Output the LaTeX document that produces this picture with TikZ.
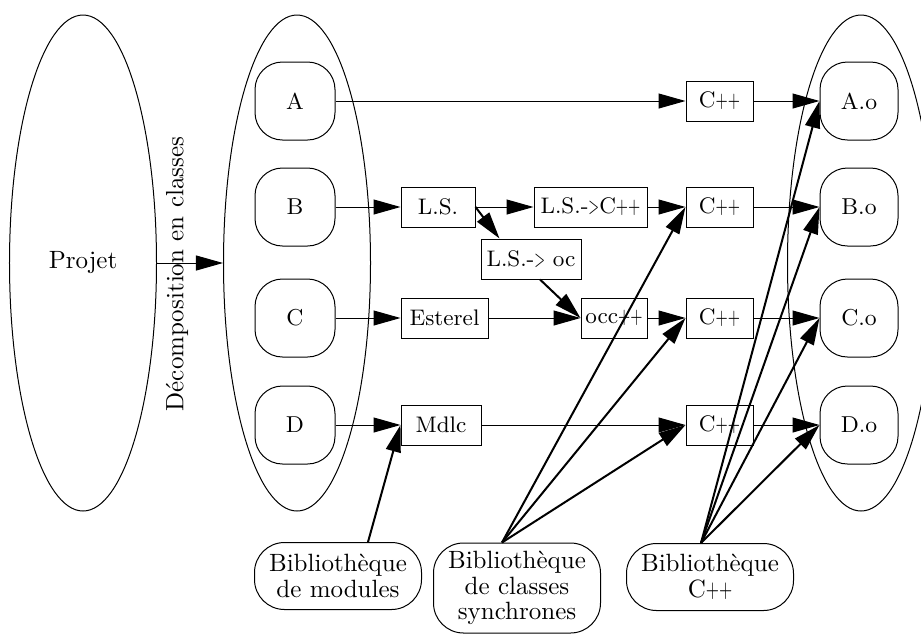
\documentclass[tikz,border=0pt]{standalone}
\usepackage{graphicx}
\usetikzlibrary{arrows.meta,shapes.geometric}
\newcommand{\mypp}{\scalebox{0.68}[1]{+}}
\newcommand{\mygt}{\scalebox{0.6}[1]{>}}
\begin{document}
\begin{tikzpicture}[x=0.4pt,y=-0.4pt,
  tipstyle/.style={-{Triangle[length=10.8pt,width=6pt]}},
  thinarrow/.style={tipstyle, line width=0.4pt},
  thickarrow/.style={tipstyle, line width=0.8pt},
  ell/.style={draw, line width=0.4pt, ellipse, minimum width=58.8pt, minimum height=198.4pt, inner sep=0pt, font=\fontsize{10}{12}\selectfont},
  rbox/.style={draw, line width=0.4pt, rounded corners=11pt, minimum width=32pt, minimum height=31.2pt, inner sep=0pt, font=\fontsize{9.2}{11}\selectfont},
  sqbox/.style={draw, line width=0.4pt, minimum height=16pt, inner sep=0pt, font=\fontsize{9}{11}\selectfont},
  lib/.style={draw, line width=0.4pt, rounded corners=12pt, minimum width=66.8pt, minimum height=26.8pt, align=center, inner sep=0pt, font=\fontsize{10}{10.3}\selectfont},
]
\useasboundingbox (0,0) rectangle (921,635);

% ellipses
\node[ell] (projet) at (83,263) {Projet};
\node[ell] (classes) at (297,263) {};
\node[ell] (objets) at (861,263) {};
\node[rotate=90, inner sep=0pt, font=\fontsize{10}{12}\selectfont] (decomp) at (177,274) {Décomposition en classes};

% class boxes
\node[rbox] (A) at (295,101) {A};
\node[rbox] (B) at (295,207) {B};
\node[rbox] (C) at (295,318) {C};
\node[rbox] (D) at (295,425) {D};

% object boxes
\node[rbox, minimum width=31.2pt] (Ao) at (859,101) {A.o};
\node[rbox, minimum width=31.2pt] (Bo) at (859,207) {B.o};
\node[rbox, minimum width=31.2pt] (Co) at (859,318) {C.o};
\node[rbox, minimum width=31.2pt] (Do) at (859,425) {D.o};

% C++ boxes
\node[sqbox, minimum width=26.8pt] (cppA) at (719.5,101) {C\mypp\mypp};
\node[sqbox, minimum width=26.8pt] (cppB) at (719.5,207) {C\mypp\mypp};
\node[sqbox, minimum width=26.8pt] (cppC) at (719.5,318) {C\mypp\mypp};
\node[sqbox, minimum width=26.8pt] (cppD) at (719.5,425) {C\mypp\mypp};

% intermediate boxes
\node[sqbox, minimum width=29.6pt] (ls) at (438,207) {L.S.};
\node[sqbox, minimum width=45.2pt] (lscpp) at (590.5,207) {L.S.-\mygt C\mypp\mypp};
\node[sqbox, minimum width=40pt] (lsoc) at (531,259) {L.S.-\mygt{} oc};
\node[sqbox, minimum width=34.8pt] (est) at (444.5,318) {Esterel};
\node[sqbox, minimum width=26.4pt] (occ) at (614,318) {occ\mypp\mypp};
\node[sqbox, minimum width=32pt] (mdlc) at (441,425) {Mdlc};

% libraries
\node[lib] (bibmod) at (338,576) {Bibliothèque\\de modules};
\node[lib, minimum height=36pt] (bibcls) at (517,588) {Bibliothèque\\de classes\\synchrones};
\node[lib] (bibcpp) at (710,577) {Bibliothèque\\C\mypp\mypp};

% edges
\draw[thinarrow] (projet.east) -- (classes.west);

\draw[thinarrow] (A) -- (cppA);
\draw[thinarrow] (cppA) -- (Ao);

\draw[thinarrow] (B) -- (ls);
\draw[thinarrow] (ls) -- (lscpp);
\draw[thinarrow] (lscpp) -- (cppB);
\draw[thinarrow] (cppB) -- (Bo);
\draw[thickarrow] (ls.east) -- ([xshift=7.6pt]lsoc.north west);
\draw[thickarrow] ([xshift=3.6pt]lsoc.south) -- (occ.west);

\draw[thinarrow] (C) -- (est);
\draw[thinarrow] (est) -- (occ);
\draw[thinarrow] (occ) -- (cppC);
\draw[thinarrow] (cppC) -- (Co);

\draw[thinarrow] (D) -- (mdlc);
\draw[thinarrow] (mdlc) -- (cppD);
\draw[thinarrow] (cppD) -- (Do);

\draw[thickarrow] ([xshift=12pt]bibmod.north) -- (mdlc.west);

\draw[thickarrow] ([xshift=-6pt]bibcls.north) -- (cppB.west);
\draw[thickarrow] ([xshift=-6pt]bibcls.north) -- (cppC.west);
\draw[thickarrow] ([xshift=-6pt]bibcls.north) -- (cppD.west);

\draw[thickarrow] ([xshift=-3.6pt]bibcpp.north) -- (Ao.west);
\draw[thickarrow] ([xshift=-3.6pt]bibcpp.north) -- (Bo.west);
\draw[thickarrow] ([xshift=-3.6pt]bibcpp.north) -- (Co.west);
\draw[thickarrow] ([xshift=-3.6pt]bibcpp.north) -- (Do.west);
\end{tikzpicture}
\end{document}
